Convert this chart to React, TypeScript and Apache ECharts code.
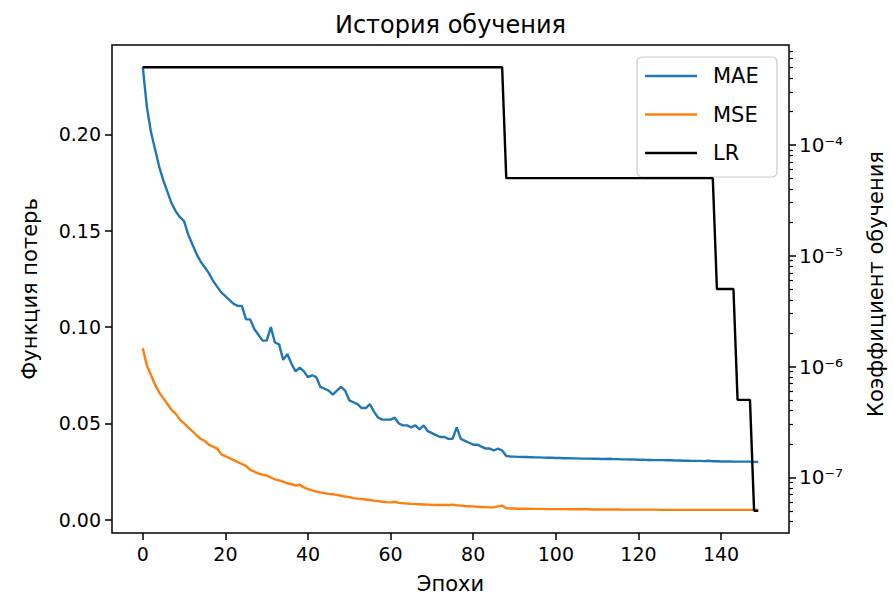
import React, { useEffect, useRef } from "react";
import * as echarts from "echarts";

const FONT = "DejaVu Sans";

// Training history: loss metrics per epoch
const mae = [
  0.235, 0.214, 0.201, 0.192, 0.183, 0.176, 0.170, 0.164, 0.160, 0.157,
  0.155, 0.148, 0.143, 0.138, 0.134, 0.131, 0.128, 0.124, 0.121, 0.118,
  0.116, 0.114, 0.112, 0.111, 0.111, 0.104, 0.104, 0.099, 0.096, 0.093,
  0.093, 0.100, 0.092, 0.091, 0.083, 0.086, 0.081, 0.077, 0.079, 0.077,
  0.074, 0.075, 0.074, 0.069, 0.068, 0.067, 0.065, 0.067, 0.069, 0.067,
  0.062, 0.061, 0.060, 0.058, 0.058, 0.060, 0.056, 0.053, 0.052, 0.052,
  0.052, 0.053, 0.050, 0.049, 0.049, 0.048, 0.049, 0.047, 0.049, 0.046,
  0.045, 0.044, 0.043, 0.043, 0.042, 0.042, 0.048, 0.042, 0.041, 0.040,
  0.039, 0.039, 0.038, 0.037, 0.037, 0.036, 0.037, 0.036, 0.0331, 0.0329,
  0.0328, 0.0327, 0.0326, 0.0326, 0.0325, 0.0324, 0.0324, 0.0323, 0.0322, 0.0322,
  0.0321, 0.0321, 0.0320, 0.0320, 0.0319, 0.0319, 0.0318, 0.0318, 0.0318, 0.0317,
  0.0317, 0.0316, 0.0316, 0.0317, 0.0315, 0.0315, 0.0314, 0.0314, 0.0313, 0.0313,
  0.0312, 0.0312, 0.0311, 0.0311, 0.0310, 0.0310, 0.0310, 0.0309, 0.0309, 0.0308,
  0.0308, 0.0307, 0.0307, 0.0306, 0.0306, 0.0306, 0.0305, 0.0307, 0.0304, 0.0304,
  0.0303, 0.0303, 0.0303, 0.0302, 0.0302, 0.0302, 0.0302, 0.0302, 0.0301, 0.0301,
];

const mse = [
  0.089, 0.080, 0.075, 0.070, 0.066, 0.063, 0.060, 0.057, 0.055, 0.052,
  0.050, 0.048, 0.046, 0.044, 0.042, 0.041, 0.039, 0.038, 0.037, 0.034,
  0.033, 0.032, 0.031, 0.030, 0.029, 0.028, 0.026, 0.025, 0.024, 0.0235,
  0.023, 0.022, 0.021, 0.0205, 0.0198, 0.019, 0.0185, 0.0178, 0.0182, 0.0168,
  0.016, 0.0153, 0.0147, 0.0143, 0.0139, 0.0135, 0.0133, 0.0130, 0.0125, 0.0121,
  0.0118, 0.0113, 0.0110, 0.0108, 0.0106, 0.0103, 0.0100, 0.0097, 0.0094, 0.0092,
  0.0091, 0.0094, 0.0088, 0.0086, 0.0085, 0.0083, 0.0082, 0.0081, 0.0080, 0.0079,
  0.0078, 0.0077, 0.0077, 0.0078, 0.0077, 0.0079, 0.0076, 0.0074, 0.0072, 0.0071,
  0.0070, 0.0068, 0.0067, 0.0066, 0.0065, 0.0065, 0.0070, 0.0074, 0.0060, 0.0059,
  0.0059, 0.0058, 0.0058, 0.0058, 0.0057, 0.0057, 0.0057, 0.0057, 0.0056, 0.0056,
  0.0056, 0.0056, 0.0056, 0.0055, 0.0055, 0.0055, 0.0055, 0.0055, 0.0055, 0.0054,
  0.0054, 0.0054, 0.0054, 0.0054, 0.0054, 0.0054, 0.0053, 0.0053, 0.0053, 0.0053,
  0.0053, 0.0053, 0.0053, 0.0053, 0.0053, 0.0052, 0.0052, 0.0052, 0.0052, 0.0052,
  0.0052, 0.0052, 0.0052, 0.0052, 0.0052, 0.0052, 0.0052, 0.0052, 0.0052, 0.0052,
  0.0052, 0.0052, 0.0052, 0.0052, 0.0052, 0.0052, 0.0052, 0.0052, 0.0052, 0.0052,
];

// Learning-rate schedule: epoch where each level starts, and the level
const lrStartEpochs = [0, 88, 139, 144, 148];
const lrLevels = [5e-4, 5e-5, 5e-6, 5e-7, 5e-8];

const xTicks = [0, 20, 40, 60, 80, 100, 120, 140];
const lossTicks = [0, 0.05, 0.1, 0.15, 0.2];
const lrDecades = [-7, -6, -5, -4];

const SUP: Record<string, string> = {
  "0": "⁰", "1": "¹", "2": "²", "3": "³", "4": "⁴",
  "5": "⁵", "6": "⁶", "7": "⁷", "8": "⁸", "9": "⁹",
};

const lrPerEpoch = mae.map((_, i) => {
  let level = lrLevels[0];
  lrStartEpochs.forEach((s, k) => {
    if (i >= s) level = lrLevels[k];
  });
  return level;
});

// minor log ticks (2..9 x 10^n) inside the right axis range
const LR_MIN = -7.501;
const LR_MAX = -3.101;
const lrMinor: number[] = [];
for (let n = -8; n <= -4; n++) {
  for (let k = 2; k <= 9; k++) {
    const v = Math.log10(k) + n;
    if (v > LR_MIN && v < LR_MAX) lrMinor.push(v);
  }
}

export default function App() {
  const ref = useRef<HTMLDivElement>(null);

  useEffect(() => {
    document.body.style.margin = "0";
    const chart = echarts.init(ref.current!, null, { renderer: "svg" });
    const text = { fontFamily: FONT, color: "#000" };

    const option: echarts.EChartsOption = {
      animation: false,
      backgroundColor: "#fff",
      grid: {
        left: 112,
        right: 104,
        top: 45,
        bottom: 64,
        show: true,
        borderColor: "#000",
        borderWidth: 1.5,
        backgroundColor: "transparent",
      },
      xAxis: {
        type: "value",
        min: -7.45,
        max: 156.45,
        axisLine: { show: false, onZero: false },
        splitLine: { show: false },
        axisTick: {
          customValues: xTicks,
          length: 7,
          lineStyle: { color: "#000", width: 1.5 },
        },
        axisLabel: {
          customValues: xTicks,
          margin: 11,
          fontSize: 19,
          ...text,
        },
      },
      yAxis: [
        {
          type: "value",
          position: "left",
          min: -0.0068,
          max: 0.2463,
          axisLine: { show: false, onZero: false },
          splitLine: { show: false },
          axisTick: {
            customValues: lossTicks,
            length: 7,
            lineStyle: { color: "#000", width: 1.5 },
          },
          axisLabel: {
            customValues: lossTicks,
            margin: 11,
            fontSize: 19,
            formatter: (v: number) => v.toFixed(2),
            ...text,
          },
        },
        {
          type: "value",
          position: "right",
          min: LR_MIN,
          max: LR_MAX,
          axisLine: { show: false, onZero: false },
          splitLine: { show: false },
          axisTick: {
            customValues: lrDecades,
            length: 7,
            lineStyle: { color: "#000", width: 1.5 },
          },
          axisLabel: {
            customValues: lrDecades,
            margin: 10,
            fontSize: 20,
            formatter: (v: number) =>
              "10⁻" + String(-Math.round(v)).split("").map((c) => SUP[c]).join(""),
            ...text,
          },
        },
        {
          type: "value",
          position: "right",
          min: LR_MIN,
          max: LR_MAX,
          axisLine: { show: false, onZero: false },
          splitLine: { show: false },
          axisTick: {
            customValues: lrMinor,
            length: 4,
            lineStyle: { color: "#000", width: 1.2 },
          },
          axisLabel: { show: false },
        },
      ],
      series: [
        {
          name: "MAE",
          type: "line",
          yAxisIndex: 0,
          data: mae.map((v, i) => [i, v]),
          showSymbol: false,
          lineStyle: { color: "#1f77b4", width: 2.4 },
          itemStyle: { color: "#1f77b4" },
        },
        {
          name: "MSE",
          type: "line",
          yAxisIndex: 0,
          data: mse.map((v, i) => [i, v]),
          showSymbol: false,
          lineStyle: { color: "#ff7f0e", width: 2.4 },
          itemStyle: { color: "#ff7f0e" },
        },
        {
          name: "LR",
          type: "line",
          yAxisIndex: 1,
          data: lrPerEpoch.map((v, i) => [i, Math.log10(v)]),
          showSymbol: false,
          lineStyle: { color: "#000", width: 2.4 },
          itemStyle: { color: "#000" },
        },
      ],
      graphic: [
        {
          type: "text",
          x: 450.5,
          y: 25,
          style: { text: "История обучения", fontSize: 24, fontFamily: FONT, fill: "#000", align: "center", verticalAlign: "middle" },
        },
        {
          type: "text",
          x: 450.5,
          y: 584,
          style: { text: "Эпохи", fontSize: 21, fontFamily: FONT, fill: "#000", align: "center", verticalAlign: "middle" },
        },
        {
          type: "text",
          x: 30,
          y: 289,
          rotation: Math.PI / 2,
          style: { text: "Функция потерь", fontSize: 21, fontFamily: FONT, fill: "#000", align: "center", verticalAlign: "middle" },
        },
        {
          type: "text",
          x: 876,
          y: 284,
          rotation: Math.PI / 2,
          style: { text: "Коэффициент обучения", fontSize: 21, fontFamily: FONT, fill: "#000", align: "center", verticalAlign: "middle" },
        },
        {
          type: "group",
          children: [
            {
              type: "rect",
              shape: { x: 637, y: 57, width: 140, height: 120, r: 5 },
              style: { fill: "rgba(255,255,255,0.8)", stroke: "#cccccc", lineWidth: 1.2 },
            },
            ...[
              { name: "MAE", color: "#1f77b4", y: 76 },
              { name: "MSE", color: "#ff7f0e", y: 114.5 },
              { name: "LR", color: "#000", y: 153 },
            ].flatMap((it) => [
              {
                type: "line",
                shape: { x1: 645, y1: it.y, x2: 697, y2: it.y },
                style: { stroke: it.color, lineWidth: 2.4 },
              },
              {
                type: "text",
                x: 713,
                y: it.y,
                style: { text: it.name, fontSize: 21, fontFamily: FONT, fill: "#000", verticalAlign: "middle" },
              },
            ]),
          ],
        },
      ],
    };

    chart.setOption(option);
    return () => chart.dispose();
  }, []);

  return <div ref={ref} style={{ width: 893, height: 597 }} />;
}
